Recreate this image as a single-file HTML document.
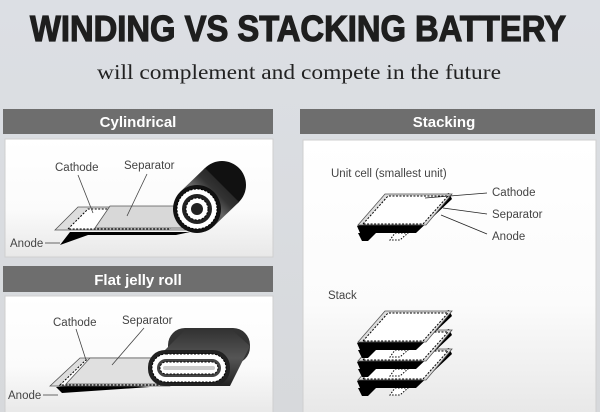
<!DOCTYPE html>
<html><head><meta charset="utf-8"><style>
html,body{margin:0;padding:0;background:#dadde2;}
svg{display:block}
</style></head><body>
<svg width="600" height="412" viewBox="0 0 600 412" xmlns="http://www.w3.org/2000/svg" font-family="Liberation Sans, sans-serif">
<defs>
<linearGradient id="bg" x1="0" y1="0" x2="0" y2="1"><stop offset="0" stop-color="#dcdfe4"/><stop offset="1" stop-color="#d7d9dc"/></linearGradient>
<linearGradient id="pn" x1="0" y1="0" x2="0" y2="1"><stop offset="0" stop-color="#ffffff"/><stop offset="0.6" stop-color="#fbfbfb"/><stop offset="1" stop-color="#e8e8e8"/></linearGradient>
<linearGradient id="cyl" x1="0" y1="1" x2="1" y2="0"><stop offset="0" stop-color="#111"/><stop offset="0.45" stop-color="#666"/><stop offset="0.6" stop-color="#333"/><stop offset="1" stop-color="#111"/></linearGradient>
<linearGradient id="flat" x1="0" y1="1" x2="0" y2="0"><stop offset="0" stop-color="#222"/><stop offset="0.5" stop-color="#555"/><stop offset="1" stop-color="#333"/></linearGradient>
</defs>
<rect width="600" height="412" fill="url(#bg)"/>
<text x="298" y="41" text-anchor="middle" font-size="36" font-weight="bold" fill="#1e1e1e" textLength="536" lengthAdjust="spacingAndGlyphs" stroke="#1e1e1e" stroke-width="1.2">WINDING VS STACKING BATTERY</text>
<text x="299" y="79" text-anchor="middle" font-family="Liberation Serif, serif" font-size="21" fill="#222" textLength="404" lengthAdjust="spacingAndGlyphs">will complement and compete in the future</text>

<!-- left top -->
<rect x="3" y="109" width="270" height="25" fill="#6e6e6e"/>
<text x="138" y="127" text-anchor="middle" font-size="15" font-weight="bold" fill="#fff">Cylindrical</text>
<rect x="5" y="139" width="268" height="118" fill="url(#pn)" stroke="#cfcfcf"/>
<polygon points="55,230 78,207 200,207 186,230" fill="#ddd" stroke="#555" stroke-width="0.8"/>
<polygon points="60,245 70,232 190,232 176,235 88,235" fill="#000"/>
<polygon points="68,229 88,209 180,209 170,229" fill="#fff" stroke="#000" stroke-width="1" stroke-dasharray="2,1.5"/>
<polygon points="95,228 110,206 200,206 190,228" fill="#d8d8d8" stroke="#555" stroke-width="0.8"/>
<!-- cylinder -->
<circle cx="222" cy="185" r="24" fill="#111"/>
<polygon points="214,226 239,202 205,168 180,192" fill="url(#cyl)"/>
<circle cx="197" cy="209" r="24" fill="#111"/>
<circle cx="197" cy="209" r="20" fill="#fff" stroke="#000" stroke-dasharray="2,1.5"/>
<circle cx="197" cy="209" r="15" fill="#222"/>
<circle cx="197" cy="209" r="11" fill="#fff" stroke="#000" stroke-dasharray="2,1.5"/>
<circle cx="197" cy="209" r="6" fill="#222"/>
<text x="55" y="171" font-size="11.5" fill="#444">Cathode</text>
<text x="124" y="169" font-size="11.5" fill="#444">Separator</text>
<line x1="78" y1="175" x2="93" y2="213" stroke="#444" stroke-width="0.8"/>
<line x1="147" y1="174" x2="127" y2="216" stroke="#444" stroke-width="0.8"/>
<text x="10" y="247" font-size="11.5" fill="#444">Anode</text>
<line x1="45" y1="243" x2="60" y2="243" stroke="#444" stroke-width="0.8"/>

<!-- left bottom -->
<rect x="3" y="266" width="270" height="26" fill="#6e6e6e"/>
<text x="138" y="285" text-anchor="middle" font-size="15" font-weight="bold" fill="#fff">Flat jelly roll</text>
<rect x="5" y="296" width="268" height="118" fill="url(#pn)" stroke="#cfcfcf"/>
<polygon points="56,387 62,393 150,387 90,384" fill="#000"/>
<polygon points="50,386 80,358 200,358 170,386" fill="#ddd" stroke="#555" stroke-width="0.8"/>
<polygon points="60,385 86,360 190,360 165,385" fill="#fff" stroke="#000" stroke-dasharray="2,1.5"/>
<polygon points="66,384 90,358 200,358 175,384" fill="#e0e0e0" stroke="#555" stroke-width="0.8"/>
<rect x="168" y="328" width="82" height="36" rx="17" fill="#333"/>
<polygon points="165,350 185,330 232,330 250,346 230,386 166,386" fill="url(#flat)"/>
<rect x="148" y="350" width="82" height="36" rx="17" fill="#222"/>
<rect x="152" y="354" width="74" height="28" rx="14" fill="#fff" stroke="#000" stroke-dasharray="2,1.5"/>
<rect x="157" y="359" width="64" height="18" rx="9" fill="#444"/>
<rect x="160" y="362" width="58" height="12" rx="6" fill="#fff" stroke="#000" stroke-dasharray="2,1.5"/>
<rect x="163" y="366" width="52" height="4" rx="2" fill="#ccc"/>
<text x="53" y="326" font-size="11.5" fill="#444">Cathode</text>
<text x="122" y="324" font-size="11.5" fill="#444">Separator</text>
<line x1="76" y1="329" x2="86" y2="360" stroke="#444" stroke-width="0.8"/>
<line x1="144" y1="328" x2="112" y2="365" stroke="#444" stroke-width="0.8"/>
<text x="8" y="399" font-size="11.5" fill="#444">Anode</text>
<line x1="43" y1="395" x2="58" y2="395" stroke="#444" stroke-width="0.8"/>

<!-- right -->
<rect x="300" y="109" width="295" height="25" fill="#6e6e6e"/>
<text x="444" y="127" text-anchor="middle" font-size="15" font-weight="bold" fill="#fff">Stacking</text>
<rect x="303" y="140" width="293" height="274" fill="url(#pn)" stroke="#cfcfcf"/>
<text x="331" y="177" font-size="11.5" fill="#444">Unit cell (smallest unit)</text>
<text x="492" y="196" font-size="11.5" fill="#444">Cathode</text>
<text x="492" y="218" font-size="11.5" fill="#444">Separator</text>
<text x="492" y="240" font-size="11.5" fill="#444">Anode</text>
<g id="cell">
<polygon points="357,226 360,233 416,233 452,199 449,193" fill="#000"/>
<polygon points="358,225 385,194 452,194 426,225" fill="#ddd" stroke="#555" stroke-width="0.8"/>
<polygon points="363,224 388,196 448,196 423,224" fill="#fff" stroke="#000" stroke-dasharray="2,1.5"/>
<polygon points="358,233 376,233 368,241 362,241" fill="#000"/>
<polygon points="395,233 408,233 400,240 390,240" fill="#fff" stroke="#000" stroke-dasharray="1.5,1.5"/>
</g>
<line x1="425" y1="198" x2="487" y2="193" stroke="#222" stroke-width="0.8"/>
<line x1="443" y1="208" x2="487" y2="214" stroke="#222" stroke-width="0.8"/>
<line x1="441" y1="215" x2="487" y2="234" stroke="#222" stroke-width="0.8"/>
<text x="328" y="299" font-size="11.5" fill="#444">Stack</text>
<use href="#cell" transform="translate(0,155)"/>
<use href="#cell" transform="translate(0,136)"/>
<use href="#cell" transform="translate(0,117)"/>
</svg>
</body></html>
